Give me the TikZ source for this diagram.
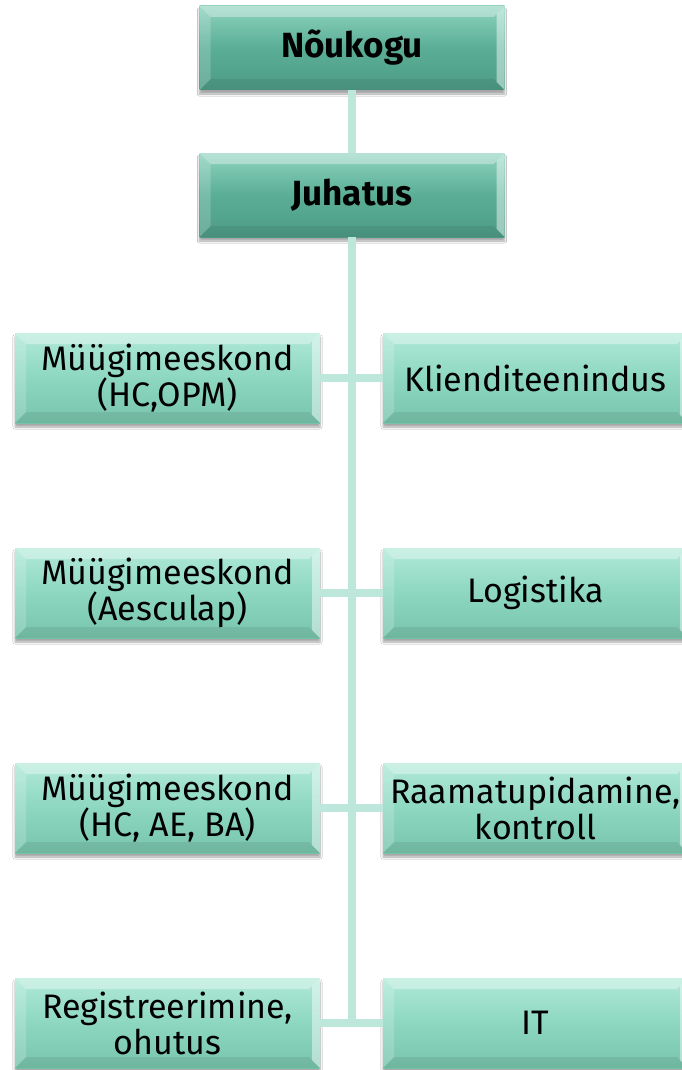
\documentclass[tikz,border=0pt]{standalone}
\usepackage{fontspec}
\setmainfont{Fira Sans}
\usetikzlibrary{positioning,shadows.blur}

\definecolor{topfill}{HTML}{5AAE95}
\definecolor{toplight}{HTML}{8ED3BE}
\definecolor{topdark}{HTML}{4E9C85}
\definecolor{boxfill}{HTML}{8DD7C0}
\definecolor{boxlight}{HTML}{B0E9D8}
\definecolor{boxdark}{HTML}{78C4AC}
\definecolor{linkcol}{HTML}{BDE7DA}

\tikzset{
  bevel/.style={path picture={
      \fill[white,opacity=.35] (path picture bounding box.north west) -- (path picture bounding box.north east)
        -- ([xshift=-11pt,yshift=-11pt]path picture bounding box.north east) -- ([xshift=11pt,yshift=-11pt]path picture bounding box.north west) -- cycle;
      \fill[white,opacity=.18] (path picture bounding box.north west) -- ([xshift=11pt,yshift=-11pt]path picture bounding box.north west)
        -- ([xshift=11pt,yshift=11pt]path picture bounding box.south west) -- (path picture bounding box.south west) -- cycle;
      \fill[white,opacity=.45] (path picture bounding box.north east) -- ([xshift=-8pt,yshift=-8pt]path picture bounding box.north east)
        -- ([xshift=-8pt,yshift=8pt]path picture bounding box.south east) -- (path picture bounding box.south east) -- cycle;
      \fill[black,opacity=.07] (path picture bounding box.south west) -- ([xshift=11pt,yshift=11pt]path picture bounding box.south west)
        -- ([xshift=-11pt,yshift=11pt]path picture bounding box.south east) -- (path picture bounding box.south east) -- cycle;
    }},
  orgbox/.style={rectangle, minimum width=305pt, minimum height=90pt, align=center,
    top color=boxlight, bottom color=boxdark, middle color=boxfill, bevel,
    blur shadow={shadow xshift=0pt, shadow yshift=-4pt, shadow blur steps=6, shadow opacity=35},
    font=\fontsize{34}{36}\selectfont},
  headbox/.style={orgbox, minimum height=84pt, top color=toplight, bottom color=topdark, middle color=topfill,
    font=\fontsize{35}{37}\selectfont\bfseries},
  link/.style={draw=linkcol, line width=8pt}
}

\begin{document}
\begin{tikzpicture}[x=1pt,y=-1pt,node distance=215pt,on grid]
    \useasboundingbox (0,0) rectangle (682,1070);
    \clip (0,0) rectangle (682,1070);
    \fill[white] (0,0) rectangle (682,1070);
    % juhtkond
    \node[headbox] (noukogu) at (352,48) {Nõukogu};
    \node[headbox] (juhatus) [below=147pt of noukogu] {Juhatus};
    % vasak tulp
    \node[orgbox] (myyk1) at (167.5,378) {Müügimeeskond\\(HC,OPM)};
    \node[orgbox] (myyk2) [below=of myyk1] {Müügimeeskond\\(Aesculap)};
    \node[orgbox] (myyk3) [below=of myyk2] {Müügimeeskond\\(HC, AE, BA)};
    \node[orgbox] (regist) [below=of myyk3] {Registreerimine,\\ohutus};
    % parem tulp
    \node[orgbox] (klient) [right=368pt of myyk1] {Klienditeenindus};
    \node[orgbox] (logist) [right=368pt of myyk2] {Logistika};
    \node[orgbox] (raamat) [right=368pt of myyk3] {Raamatupidamine,\\kontroll};
    \node[orgbox] (it)     [right=368pt of regist] {IT};
    % ühendused
    \coordinate (trunkend) at (juhatus.south |- regist.east);
    \draw[link] (noukogu) -- (juhatus);
    \draw[link] (juhatus) -- (trunkend);
    \foreach \l/\r in {myyk1/klient,myyk2/logist,myyk3/raamat,regist/it}
        \draw[link] (\l.east) -- (\r.west);
\end{tikzpicture}
\end{document}
